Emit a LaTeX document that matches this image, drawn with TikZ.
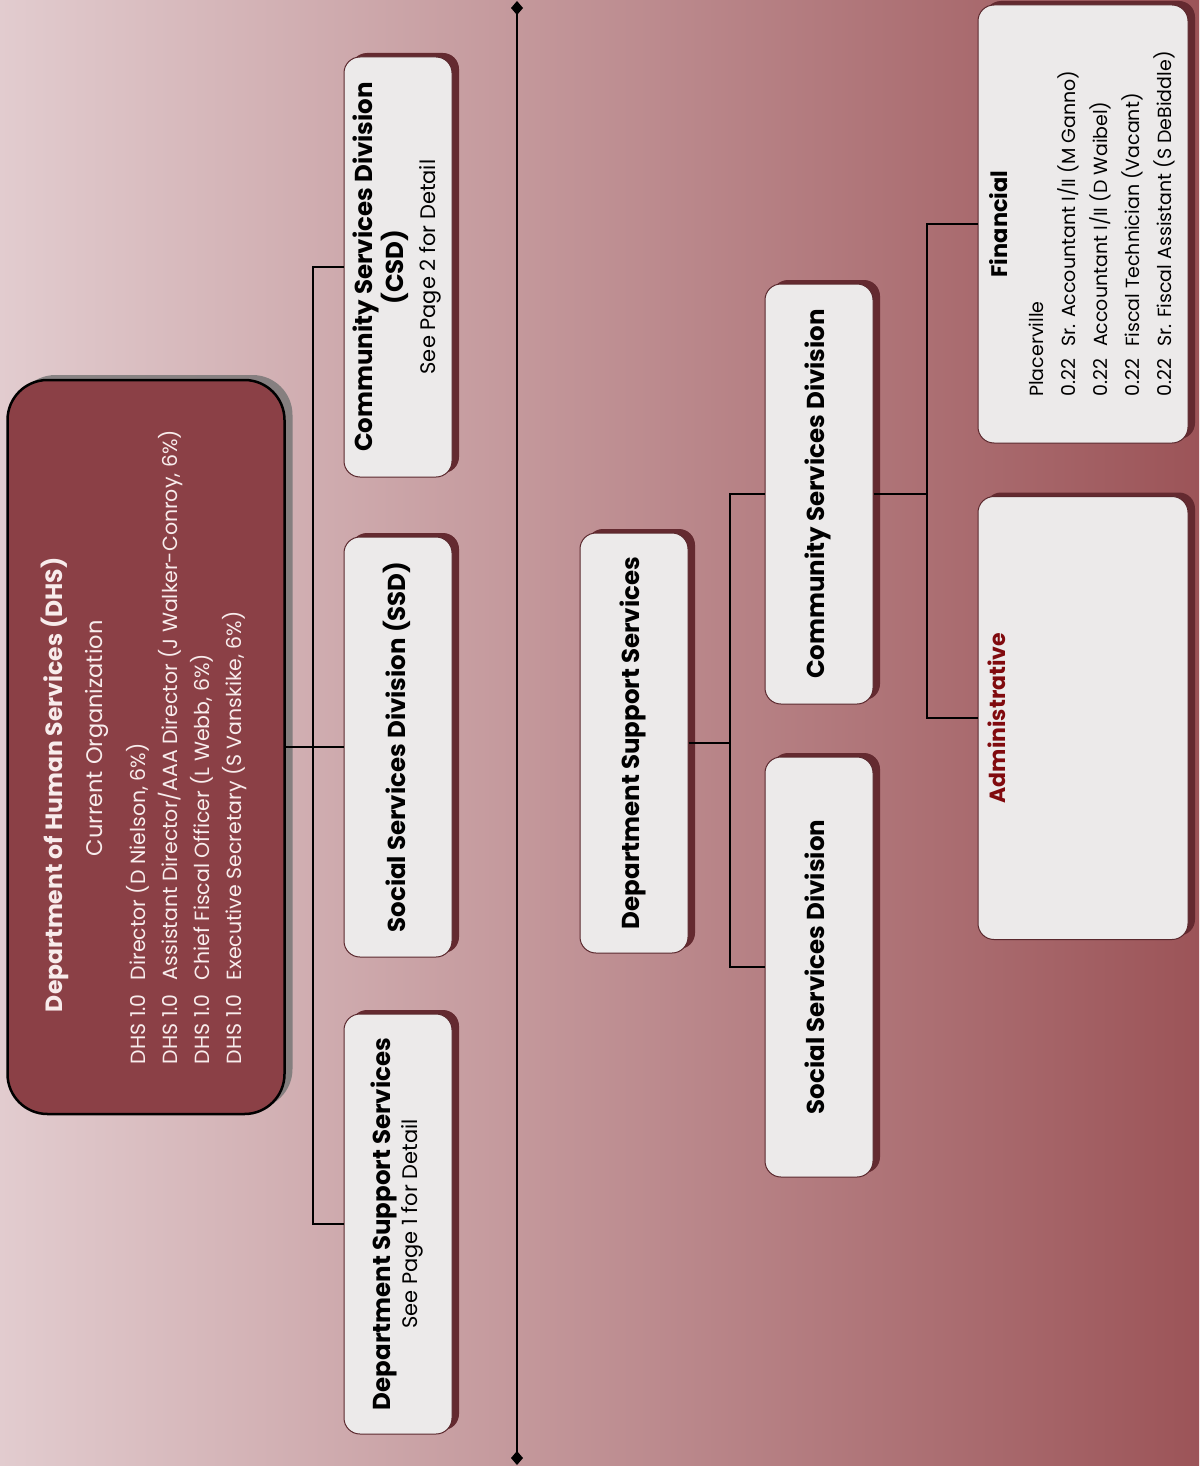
\documentclass[tikz,border=0pt]{standalone}
\usepackage{fontspec}
\setmainfont{Poppins}
\usepackage{graphicx}
\usetikzlibrary{positioning,shadows,arrows.meta}

\definecolor{bgleft}{RGB}{226,204,207}
\definecolor{bgmid}{RGB}{196,158,162}
\definecolor{bgright}{RGB}{156,84,88}
\definecolor{dhsfill}{RGB}{139,64,70}
\definecolor{dhstext}{RGB}{248,236,236}
\definecolor{unitfill}{RGB}{236,234,234}
\definecolor{unitline}{RGB}{90,40,45}
\definecolor{unitshadow}{RGB}{100,42,48}
\definecolor{admred}{RGB}{128,10,14}

% text that runs upwards in a box
\newcommand{\uptext}[1]{\rotatebox{90}{\begin{tabular}{@{}c@{}}#1\end{tabular}}}
\newcommand{\seepage}[1]{{\mdseries\fontsize{21}{24}\selectfont See Page #1 for Detail}}

\begin{document}
\begin{tikzpicture}[x=1pt,y=-1pt,
  unit/.style={draw=unitline, line width=1pt, fill=unitfill, rounded corners=16pt,
    minimum width=108pt, minimum height=420pt, inner sep=0pt,
    drop shadow={shadow xshift=7pt, shadow yshift=4pt, fill=unitshadow, opacity=1}},
  dhsbox/.style={draw=black, line width=2.5pt, fill=dhsfill, rounded corners=40pt,
    minimum width=277pt, minimum height=734pt, inner sep=0pt, text=dhstext,
    drop shadow={shadow xshift=8pt, shadow yshift=5pt, fill=black!55, opacity=.8}},
  head/.style={font=\bfseries\fontsize{24.5}{27}\selectfont},
  link/.style={line width=1.3pt, black}]

\useasboundingbox (0,0) rectangle (1199,1466);
\shade[left color=bgleft, middle color=bgmid, right color=bgright] (0,0) rectangle (1199,1466);

% divider
\coordinate (divtop) at (517,1);
\coordinate (divbot) at (517,1465);
\draw[line width=2pt, {Diamond[length=14pt,width=12pt]}-{Diamond[length=14pt,width=12pt]}] (divtop) -- (divbot);

% current organization
\node[dhsbox, font=\fontsize{20.5}{32}\selectfont] (dhs) at (146,747) {\rotatebox{90}{%
  \begin{tabular}{@{}l@{\hspace{14pt}}l@{}}
  \multicolumn{2}{@{}l}{\hspace{52pt}\bfseries\fontsize{23.5}{30}\selectfont Department of Human Services (DHS)}\\[8pt]
  \multicolumn{2}{@{}l}{\hspace{208pt}\fontsize{22.5}{26}\selectfont Current Organization}\\[11pt]
  DHS 1.0 & Director (D Nielson, 6\%)\\
  DHS 1.0 & Assistant Director/AAA Director (J Walker-Conroy, 6\%)\\
  DHS 1.0 & Chief Fiscal Officer (L Webb, 6\%)\\
  DHS 1.0 & Executive Secretary (S Vanskike, 6\%)
  \end{tabular}}};

\node[unit, head] (csd) at (398,267) {\uptext{Community Services Division\\(CSD)\\[5pt]\seepage{2}}};
\node[unit, head] (ssd) at (398,747) {\uptext{Social Services Division (SSD)}};
\node[unit, head] (dss) at (398,1224) {\uptext{Department Support Services\\\seepage{1}}};

\coordinate (hubA) at (313,747);
\draw[link] (dhs.east) -- (ssd.west);
\draw[link] (csd.west) -| (hubA) |- (dss.west);

% department support services
\node[unit, head] (dss2) at (634,743) {\uptext{Department Support Services}};
\node[unit, head] (csd2) at (819,494) {\uptext{Community Services Division}};
\node[unit, head] (ssd2) at (819,967) {\uptext{Social Services Division}};

\coordinate (hubB) at (730,743);
\draw[link] (dss2.east) -- (hubB);
\draw[link] (csd2.west) -| (hubB) |- (ssd2.west);

\node[unit, minimum width=210pt, minimum height=438pt, font=\fontsize{19}{32}\selectfont] (fin) at (1083,224) {\rotatebox{90}{%
  \begin{tabular}{@{}l@{\hspace{12pt}}l@{}}
  \multicolumn{2}{c}{\bfseries\fontsize{22.5}{24}\selectfont Financial}\\[4pt]
  \multicolumn{2}{@{}l}{Placerville}\\
  0.22 & Sr. Accountant I/II (M Ganno)\\
  0.22 & Accountant I/II (D Waibel)\\
  0.22 & Fiscal Technician (Vacant)\\
  0.22 & Sr. Fiscal Assistant (S DeBiddle)
  \end{tabular}}};
\node[unit, minimum width=210pt, minimum height=443pt] (adm) at (1083,718) {\rotatebox{90}{%
  \begin{minipage}[c][190pt][t]{420pt}\centering
  \color{admred}\bfseries\fontsize{22}{24}\selectfont Administrative
  \end{minipage}}};

\coordinate (hubC) at (927,494);
\draw[link] (csd2.east) -- (hubC);
\draw[link] (fin.west) -| (hubC) |- (adm.west);
\end{tikzpicture}
\end{document}
